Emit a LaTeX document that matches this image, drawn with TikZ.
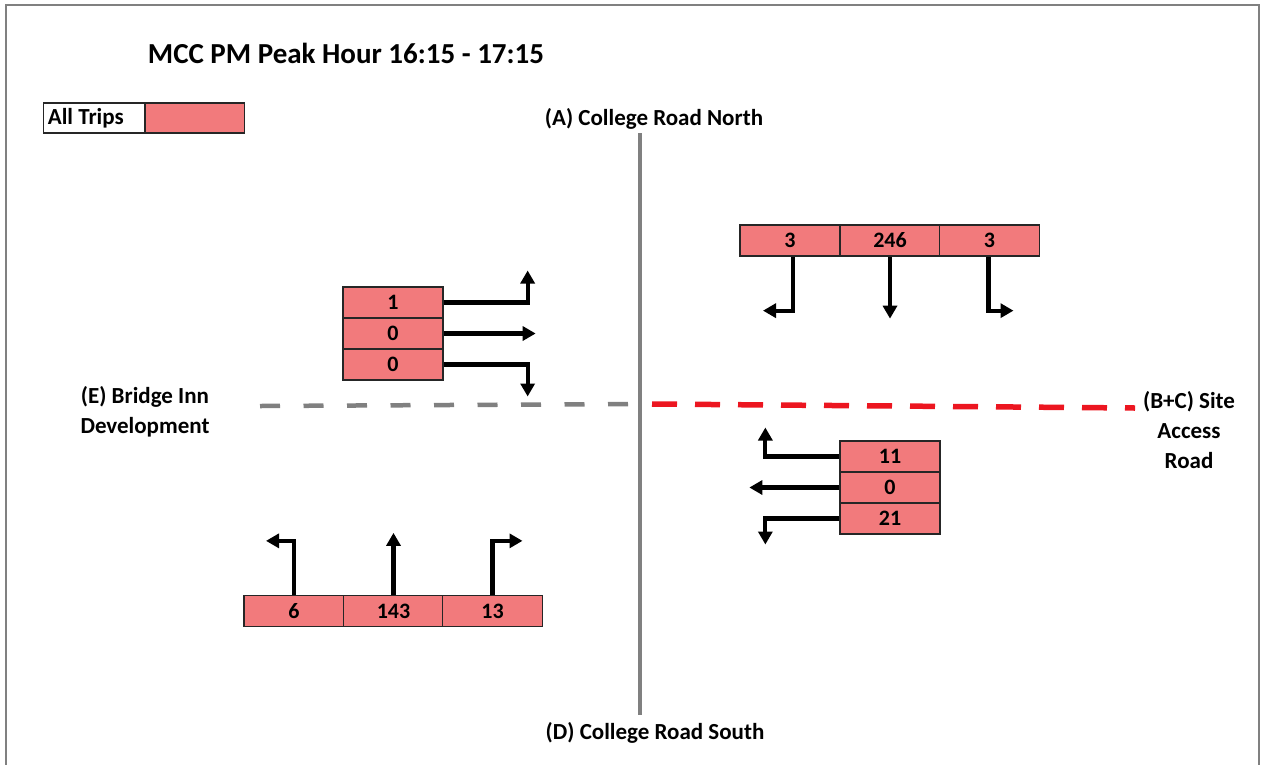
\documentclass[tikz,border=0pt]{standalone}
\usepackage{fontspec}
\setmainfont{Carlito}
\usetikzlibrary{arrows.meta}
\definecolor{tripred}{RGB}{242,122,124}
\definecolor{roadgrey}{RGB}{128,128,128}
\definecolor{siteline}{RGB}{236,22,32}

\begin{document}
\begin{tikzpicture}[x=1pt, y=-1pt,
    cell/.style={draw=black!85, line width=1.3pt, fill=tripred,
      minimum width=100pt, minimum height=31pt, inner sep=0pt,
      font=\fontsize{22}{22}\selectfont\bfseries},
    lab/.style={font=\fontsize{23}{30}\selectfont\bfseries, align=center},
    flow/.style={line width=4.2pt, -{Triangle[length=13pt,width=14pt]}}]
        \useasboundingbox (0,0) rectangle (1263,764);
        % frame
        \draw[roadgrey, line width=1.5pt] (6,780) -- (6,5) -- (1259,5) -- (1259,780);
        % title and key
        \node[font=\fontsize{29}{29}\selectfont\bfseries] (title) at (346,53)
          {MCC PM Peak Hour 16:15 - 17:15};
        \node[cell, fill=white, anchor=east, minimum width=101pt, minimum height=30pt]
          (keytxt) at (145,118) {};
        \node[anchor=west, inner sep=0pt, font=\fontsize{23}{23}\selectfont\bfseries]
          (keyname) at ([xshift=5pt]keytxt.west) {All Trips};
        \node[cell, anchor=west, minimum width=99pt, minimum height=30pt]
          (keycol) at (keytxt.east) {};
        % roads
        \coordinate (roadN) at (640,133);
        \coordinate (roadS) at (640,715);
        \coordinate (bridgeW) at (260,406);
        \coordinate (bridgeE) at (636,404);
        \coordinate (siteW) at (652,404);
        \coordinate (siteE) at (1135,408);
        \draw[roadgrey, line width=3.6pt] (roadN) -- (roadS);
        \draw[roadgrey, line width=4.5pt, dash pattern=on 20pt off 23.5pt] (bridgeW) -- (bridgeE);
        \draw[siteline, line width=5.5pt, dash pattern=on 25pt off 18pt] (siteW) -- (siteE);
        \node[lab] (labA) at (654,119) {(A) College Road North};
        \node[lab] (labD) at (655,733) {(D) College Road South};
        \node[lab] (labE) at (145,412) {(E) Bridge Inn\\Development};
        \node[lab] (labBC) at (1189,430) {(B+C) Site\\Access\\Road};
        % north arm
        \node[cell] (n1) at (790,240.5) {3};
        \node[cell] (n2) at (890,240.5) {246};
        \node[cell] (n3) at (989.5,240.5) {3};
        \draw[flow] ([xshift=3pt]n1.south) |- ++(-30,54);
        \draw[flow] (n2.south) -- ++(0,62);
        \draw[flow] ([xshift=-1pt]n3.south) |- ++(25,54);
        % west arm
        \node[cell] (w1) at (393,302.5) {1};
        \node[cell] (w2) at (393,333.5) {0};
        \node[cell] (w3) at (393,364.5) {0};
        \draw[flow] (w1.east) -| ++(84,-32);
        \draw[flow] (w2.east) -- ++(92,0);
        \draw[flow] (w3.east) -| ++(84,32);
        % east arm
        \node[cell] (e1) at (890,456.5) {11};
        \node[cell] (e2) at (890,487.5) {0};
        \node[cell] (e3) at (890,518.5) {21};
        \draw[flow] (e1.west) -| ++(-74,-29);
        \draw[flow] (e2.west) -- ++(-90,0);
        \draw[flow] (e3.west) -| ++(-74,26);
        % south arm
        \node[cell] (s1) at (294,611) {6};
        \node[cell] (s2) at (393.5,611) {143};
        \node[cell] (s3) at (492.5,611) {13};
        \draw[flow] (s1.north) |- ++(-28,-54);
        \draw[flow] (s2.north) -- ++(0,-62);
        \draw[flow] (s3.north) |- ++(30,-54);
\end{tikzpicture}
\end{document}
